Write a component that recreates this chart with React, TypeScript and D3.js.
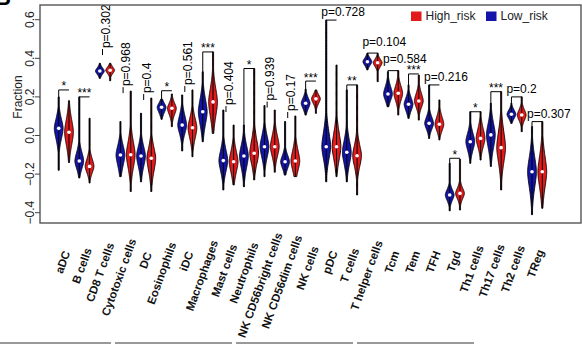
import React, { useEffect, useRef } from 'react';
import * as d3 from 'd3';

const categories = ["aDC", "B cells", "CD8 T cells", "Cytotoxic cells", "DC", "Eosinophils", "iDC", "Macrophages", "Mast cells", "Neutrophils", "NK CD56bright cells", "NK CD56dim cells", "NK cells", "pDC", "T cells", "T helper cells", "Tcm", "Tem", "TFH", "Tgd", "Th1 cells", "Th17 cells", "Th2 cells", "TReg"];

// Low_risk (blue) violins
const lowMin = [-0.18, -0.22, 0.296, -0.213, -0.24, 0.084, -0.08, -0.032, -0.282, -0.265, -0.213, -0.205, 0.106, -0.24, -0.24, 0.34, 0.149, 0.089, -0.015, -0.39, -0.144, -0.16, 0.063, -0.41];
const lowMax = [0.20, 0.20, 0.374, 0.072, 0.115, 0.188, 0.21, 0.33, 0.132, 0.054, 0.155, 0.072, 0.24, 0.598, 0.236, 0.426, 0.33, 0.262, 0.262, -0.144, 0.123, 0.167, 0.167, 0.046];
const lowMedian = [0.037, -0.132, 0.334, -0.101, -0.106, 0.146, 0.054, 0.123, -0.13, -0.106, -0.058, -0.136, 0.167, -0.058, -0.087, 0.382, 0.215, 0.162, 0.063, -0.308, -0.032, 0.003, 0.11, -0.188];
const lowSpreadDown = [0.05, 0.035, 0.015, 0.05, 0.05, 0.025, 0.04, 0.06, 0.05, 0.055, 0.05, 0.03, 0.025, 0.06, 0.055, 0.017, 0.03, 0.03, 0.028, 0.025, 0.04, 0.06, 0.02, 0.075];
const lowSpreadUp = [0.045, 0.04, 0.015, 0.045, 0.045, 0.02, 0.045, 0.06, 0.05, 0.05, 0.05, 0.03, 0.025, 0.07, 0.055, 0.017, 0.035, 0.03, 0.03, 0.025, 0.04, 0.055, 0.02, 0.07];

// High_risk (red) violins
const highMin = [-0.14, -0.246, 0.284, -0.29, -0.29, 0.046, -0.11, 0.011, -0.256, -0.23, -0.19, -0.213, 0.115, -0.213, -0.308, 0.279, 0.106, 0.08, -0.023, -0.386, -0.127, -0.282, 0.02, -0.377];
const highMax = [0.18, 0.089, 0.374, 0.23, 0.194, 0.215, 0.236, 0.433, 0.054, 0.347, 0.132, 0.101, 0.236, 0.365, 0.262, 0.426, 0.336, 0.313, 0.184, -0.123, 0.123, 0.227, 0.2, 0.072];
const highMedian = [0.017, -0.16, 0.338, -0.10, -0.118, 0.141, 0.04, 0.174, -0.136, -0.092, -0.058, -0.132, 0.19, -0.058, -0.105, 0.377, 0.219, 0.179, 0.058, -0.30, -0.015, -0.063, 0.106, -0.188];
const highSpreadDown = [0.06, 0.03, 0.015, 0.06, 0.06, 0.03, 0.05, 0.07, 0.05, 0.05, 0.045, 0.045, 0.022, 0.06, 0.05, 0.018, 0.035, 0.03, 0.03, 0.025, 0.04, 0.07, 0.025, 0.075];
const highSpreadUp = [0.06, 0.035, 0.015, 0.06, 0.05, 0.025, 0.045, 0.065, 0.05, 0.06, 0.05, 0.05, 0.02, 0.065, 0.05, 0.017, 0.035, 0.035, 0.035, 0.025, 0.045, 0.075, 0.025, 0.075];

// significance annotations
const annotLabels = ["*", "***", "p=0.302", "p=0.968", "p=0.4", "*", "p=0.561", "***", "p=0.404", "*", "p=0.939", "p=0.17", "***", "p=0.728", "**", "p=0.104", "p=0.584", "***", "p=0.216", "*", "*", "***", "p=0.2", "p=0.307"];
const annotKind = ["star", "star", "v", "v", "v", "star", "v", "star", "v", "star", "v", "v", "star", "h", "star", "h", "h", "star", "h", "star", "star", "star", "h", "h"];
const annotLevel = [0.236, 0.20, 0.427, 0.23, 0.194, 0.232, 0.236, 0.433, 0.132, 0.347, 0.155, 0.101, 0.282, 0.598, 0.262, 0.427, 0.336, 0.319, 0.262, -0.118, 0.123, 0.227, 0.2, 0.072];

const yTicks = [0.6, 0.4, 0.2, 0.0, -0.2, -0.4];
const groups = ["High_risk", "Low_risk"];

const W = 582, H = 345;
const BLUE = "#1414a8";
const RED = "#e31a1c";
const FONT = "'Liberation Sans', Arial, Helvetica, sans-serif";
// extra lift (px) for labels that sit higher above their bracket
const LABEL_LIFT: Record<string, number> = { "p=0.104": 3, "p=0.584": 3.5 };

export default function App() {
  const ref = useRef<SVGSVGElement | null>(null);

  useEffect(() => {
    const svg = d3.select(ref.current);
    svg.selectAll("*").remove();

    const frame = { l: 40, t: 5, r: 581, b: 223 };
    const y = d3.scaleLinear().domain([-0.4, 0.6]).range([212.7, 19.7]);
    const x = d3.scaleLinear().domain([0, 47]).range([58.7, 542.3]);
    const halfMax = 4.4;

    // partial panel letter in the corner
    svg.append("text").attr("x", -5).attr("y", 5).attr("font-family", FONT)
      .attr("font-weight", "bold").attr("font-size", 22).attr("fill", "#000").text("B");

    const violins = svg.append("g");
    const drawViolin = (cx: number, lo: number, hi: number, med: number, sdD: number, sdU: number, fill: string) => {
      const pts = d3.range(0, 101).map(i => lo + (hi - lo) * i / 100);
      const width = (v: number) => {
        const sd = (v < med ? sdD : sdU) * 1.1;
        return Math.max(0.55, halfMax * Math.exp(-0.5 * Math.pow(Math.abs(v - med) / sd, 1.7)));
      };
      const area = d3.area<number>()
        .y(v => y(v))
        .x0(v => cx - width(v))
        .x1(v => cx + width(v))
        .curve(d3.curveBasis);
      violins.append("path").attr("d", area(pts) as string)
        .attr("fill", fill).attr("stroke", "#000").attr("stroke-width", 0.9);
      violins.append("line").attr("x1", cx).attr("x2", cx).attr("y1", y(lo)).attr("y2", y(hi))
        .attr("stroke", "#000").attr("stroke-width", 1);
      violins.append("circle").attr("cx", cx).attr("cy", y(med)).attr("r", 1.8).attr("fill", "#fff");
    };

    categories.forEach((c, i) => {
      drawViolin(x(2 * i), lowMin[i], lowMax[i], lowMedian[i], lowSpreadDown[i], lowSpreadUp[i], BLUE);
      drawViolin(x(2 * i + 1), highMin[i], highMax[i], highMedian[i], highSpreadDown[i], highSpreadUp[i], RED);
    });

    // annotations
    const ann = svg.append("g").attr("font-family", FONT).attr("font-size", 12).attr("fill", "#000");
    categories.forEach((c, i) => {
      const xb = x(2 * i), xr = x(2 * i + 1), xc = (xb + xr) / 2;
      const yb = y(annotLevel[i]);
      const kind = annotKind[i];
      if (kind === "v") {
        ann.append("line").attr("x1", xc - 2.5).attr("x2", xc - 2.5).attr("y1", yb - 4).attr("y2", yb + 2)
          .attr("stroke", "#000").attr("stroke-width", 1);
        ann.append("text").attr("transform", `translate(${xr - 0.5},${yb - 5}) rotate(-90)`)
          .attr("text-anchor", "start").text(annotLabels[i]);
      } else {
        ann.append("line").attr("x1", xb).attr("x2", xr).attr("y1", yb).attr("y2", yb)
          .attr("stroke", "#000").attr("stroke-width", 1);
        const tb = y(lowMax[i]);
        if (tb > yb + 0.5) ann.append("line").attr("x1", xb).attr("x2", xb).attr("y1", yb).attr("y2", tb).attr("stroke", "#000").attr("stroke-width", 1);
        if (kind === "star") {
          ann.append("text").attr("x", xc).attr("y", yb + 0.5).attr("text-anchor", "middle").text(annotLabels[i]);
        } else {
          const lift = LABEL_LIFT[annotLabels[i]] || 0;
          ann.append("text").attr("x", xb - 5).attr("y", yb - 4 - lift).attr("text-anchor", "start").text(annotLabels[i]);
        }
      }
    });

    // frame
    svg.append("rect").attr("x", frame.l).attr("y", frame.t).attr("width", frame.r - frame.l).attr("height", frame.b - frame.t)
      .attr("fill", "none").attr("stroke", "#555").attr("stroke-width", 1.4);

    // y axis
    const ya = svg.append("g").attr("font-family", FONT).attr("font-size", 12).attr("fill", "#222");
    yTicks.forEach(t => {
      ya.append("line").attr("x1", 35).attr("x2", frame.l).attr("y1", y(t)).attr("y2", y(t)).attr("stroke", "#444").attr("stroke-width", 1);
      const lab = t === 0 ? "0.0" : d3.format(".1f")(t).replace("-", "\u2212");
      ya.append("text").attr("transform", `translate(33.5,${y(t)}) rotate(-90)`).attr("text-anchor", "middle").text(lab);
    });
    svg.append("text").attr("transform", `translate(21.5,97) rotate(-90)`).attr("text-anchor", "middle")
      .attr("font-family", FONT).attr("font-size", 12).attr("fill", "#222").text("Fraction");

    // x labels
    const xl = svg.append("g").attr("font-family", FONT).attr("font-size", 11.5).attr("font-weight", "bold").attr("fill", "#111");
    categories.forEach((c, i) => {
      const xc = (x(2 * i) + x(2 * i + 1)) / 2;
      const g = xl.append("g").attr("transform", `translate(${xc + 1},256) rotate(-70)`);
      const t = g.append("text").attr("text-anchor", "end").attr("dy", "0.35em").text(c);
      const L = (t.node() as SVGTextElement).getComputedTextLength();
      t.attr("x", 0.22 * L);
    });

    // legend
    const lg = svg.append("g").attr("font-family", FONT).attr("font-size", 12).attr("fill", "#222");
    const legColors = [RED, BLUE];
    const legX = [411, 486];
    groups.forEach((gname, i) => {
      lg.append("rect").attr("x", legX[i]).attr("y", 11.5).attr("width", 10.5).attr("height", 9.5).attr("fill", legColors[i]);
      lg.append("text").attr("x", legX[i] + 14.5).attr("y", 20).text(gname);
    });

    // bottom separator lines
    const segs = [[0, 111], [115, 232], [236, 353], [357, 474]];
    segs.forEach(s => {
      svg.append("line").attr("x1", s[0]).attr("x2", s[1]).attr("y1", 343).attr("y2", 343).attr("stroke", "#777").attr("stroke-width", 1.4);
    });
  }, []);

  return (
    <svg ref={ref} width={W} height={H} style={{ position: "absolute", left: 0, top: 0, background: "#fff" }} />
  );
}
